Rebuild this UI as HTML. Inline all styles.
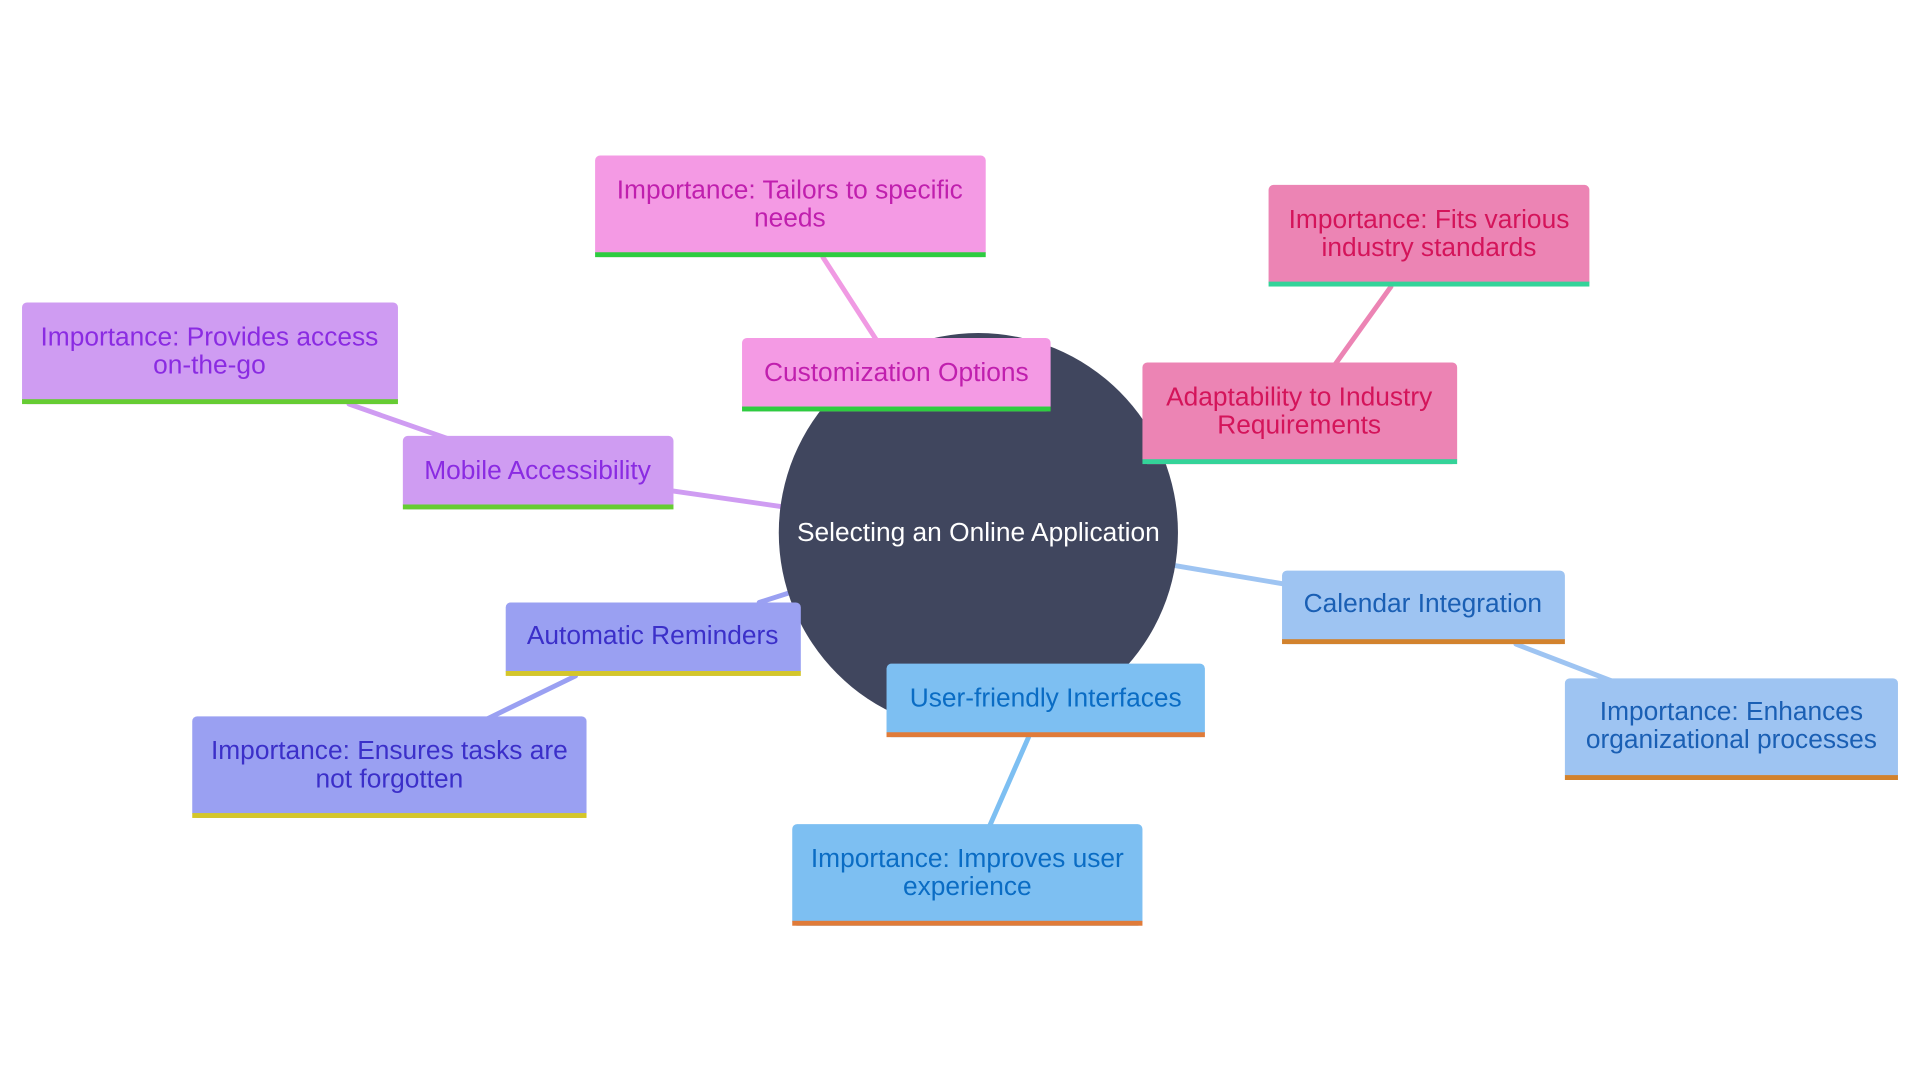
<!DOCTYPE html>
<html><head><meta charset="utf-8"><style>
html,body{margin:0;padding:0;background:#fff;width:1920px;height:1080px;overflow:hidden}
svg text{font-family:"Liberation Sans",sans-serif;font-size:21.5px;text-anchor:middle}
</style></head><body>
<svg width="1920" height="1080" viewBox="0 0 1568 882" preserveAspectRatio="none" xmlns="http://www.w3.org/2000/svg">
<g stroke-width="4" stroke-linecap="round">
<line x1="672" y1="210" x2="716" y2="278" stroke="#f09ae3"/>
<line x1="1136" y1="234" x2="1090" y2="298" stroke="#ec84b4"/>
<line x1="285" y1="330" x2="365" y2="358" stroke="#cf9cf2"/>
<line x1="550" y1="401" x2="640" y2="414" stroke="#cf9cf2"/>
<line x1="960" y1="462" x2="1049" y2="477" stroke="#9ec4f2"/>
<line x1="1238" y1="526" x2="1316" y2="556" stroke="#9ec4f2"/>
<line x1="620" y1="492" x2="645" y2="484" stroke="#9aa0f2"/>
<line x1="470" y1="552" x2="398" y2="587" stroke="#9aa0f2"/>
<line x1="840" y1="602" x2="808" y2="675" stroke="#7dbff2"/>
</g>
<circle cx="799" cy="435" r="163" fill="#40465e"/>
<text x="799" y="442" fill="#fff" style="font-size:21.5px">Selecting an Online Application</text>

<g>
<rect x="606" y="276" width="252" height="60" rx="4" fill="#f49ae4"/><rect x="606" y="332" width="252" height="4" fill="#2ecc40"/>
<text x="732" y="311" fill="#c01fae">Customization Options</text>

<rect x="486" y="127" width="319" height="83" rx="4" fill="#f49ae4"/><rect x="486" y="206" width="319" height="4" fill="#2ecc40"/>
<text x="645" y="162" fill="#c01fae">Importance: Tailors to specific</text>
<text x="645" y="185" fill="#c01fae">needs</text>

<rect x="933" y="296" width="257" height="83" rx="4" fill="#ec84b4"/><rect x="933" y="375" width="257" height="4" fill="#34d399"/>
<text x="1061" y="331" fill="#d4145a">Adaptability to Industry</text>
<text x="1061" y="354" fill="#d4145a">Requirements</text>

<rect x="1036" y="151" width="262" height="83" rx="4" fill="#ec84b4"/><rect x="1036" y="230" width="262" height="4" fill="#34d399"/>
<text x="1167" y="186" fill="#d4145a">Importance: Fits various</text>
<text x="1167" y="209" fill="#d4145a">industry standards</text>

<rect x="329" y="356" width="221" height="60" rx="4" fill="#cf9cf2"/><rect x="329" y="412" width="221" height="4" fill="#66cc33"/>
<text x="439" y="391" fill="#8a2be2">Mobile Accessibility</text>

<rect x="18" y="247" width="307" height="83" rx="4" fill="#cf9cf2"/><rect x="18" y="326" width="307" height="4" fill="#66cc33"/>
<text x="171" y="282" fill="#8a2be2">Importance: Provides access</text>
<text x="171" y="305" fill="#8a2be2">on-the-go</text>

<rect x="1047" y="466" width="231" height="60" rx="4" fill="#9ec4f2"/><rect x="1047" y="522" width="231" height="4" fill="#d2822d"/>
<text x="1162" y="500" fill="#1a5fb4">Calendar Integration</text>

<rect x="1278" y="554" width="272" height="83" rx="4" fill="#9ec4f2"/><rect x="1278" y="633" width="272" height="4" fill="#d2822d"/>
<text x="1414" y="588" fill="#1a5fb4">Importance: Enhances</text>
<text x="1414" y="611" fill="#1a5fb4">organizational processes</text>

<rect x="413" y="492" width="241" height="60" rx="4" fill="#9aa0f2"/><rect x="413" y="548" width="241" height="4" fill="#d4c62a"/>
<text x="533" y="526" fill="#3b2fc9">Automatic Reminders</text>

<rect x="157" y="585" width="322" height="83" rx="4" fill="#9aa0f2"/><rect x="157" y="664" width="322" height="4" fill="#d4c62a"/>
<text x="318" y="620" fill="#3b2fc9">Importance: Ensures tasks are</text>
<text x="318" y="643" fill="#3b2fc9">not forgotten</text>

<rect x="724" y="542" width="260" height="60" rx="4" fill="#7dbff2"/><rect x="724" y="598" width="260" height="4" fill="#e07b39"/>
<text x="854" y="577" fill="#0a6cc4">User-friendly Interfaces</text>

<rect x="647" y="673" width="286" height="83" rx="4" fill="#7dbff2"/><rect x="647" y="752" width="286" height="4" fill="#e07b39"/>
<text x="790" y="708" fill="#0a6cc4">Importance: Improves user</text>
<text x="790" y="731" fill="#0a6cc4">experience</text>
</g>
</svg>
</body></html>
